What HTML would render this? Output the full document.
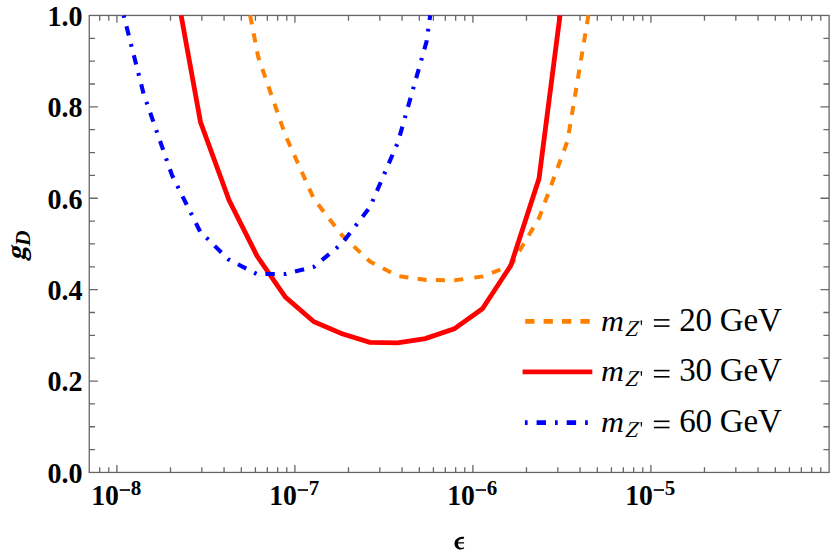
<!DOCTYPE html>
<html><head><meta charset="utf-8"><style>
html,body{margin:0;padding:0;background:#fff;}
body{width:830px;height:556px;overflow:hidden;font-family:"Liberation Serif",serif;}
svg{display:block}
</style></head><body>
<svg width="830" height="556" viewBox="0 0 830 556">
<rect width="830" height="556" fill="#fff"/>
<rect x="89.25" y="15.45" width="739.85" height="457.00" fill="none" stroke="#666666" stroke-width="1.3"/>
<path d="M99.65 472.45 v-5.2 M99.65 15.45 v5.2 M108.76 472.45 v-5.2 M108.76 15.45 v5.2 M116.90 472.45 v-7.4 M116.90 15.45 v7.4 M170.48 472.45 v-5.2 M170.48 15.45 v5.2 M201.83 472.45 v-5.2 M201.83 15.45 v5.2 M224.07 472.45 v-5.2 M224.07 15.45 v5.2 M241.32 472.45 v-5.2 M241.32 15.45 v5.2 M255.41 472.45 v-5.2 M255.41 15.45 v5.2 M267.33 472.45 v-5.2 M267.33 15.45 v5.2 M277.65 472.45 v-5.2 M277.65 15.45 v5.2 M286.76 472.45 v-5.2 M286.76 15.45 v5.2 M294.90 472.45 v-7.4 M294.90 15.45 v7.4 M348.48 472.45 v-5.2 M348.48 15.45 v5.2 M379.83 472.45 v-5.2 M379.83 15.45 v5.2 M402.07 472.45 v-5.2 M402.07 15.45 v5.2 M419.32 472.45 v-5.2 M419.32 15.45 v5.2 M433.41 472.45 v-5.2 M433.41 15.45 v5.2 M445.33 472.45 v-5.2 M445.33 15.45 v5.2 M455.65 472.45 v-5.2 M455.65 15.45 v5.2 M464.76 472.45 v-5.2 M464.76 15.45 v5.2 M472.90 472.45 v-7.4 M472.90 15.45 v7.4 M526.48 472.45 v-5.2 M526.48 15.45 v5.2 M557.83 472.45 v-5.2 M557.83 15.45 v5.2 M580.07 472.45 v-5.2 M580.07 15.45 v5.2 M597.32 472.45 v-5.2 M597.32 15.45 v5.2 M611.41 472.45 v-5.2 M611.41 15.45 v5.2 M623.33 472.45 v-5.2 M623.33 15.45 v5.2 M633.65 472.45 v-5.2 M633.65 15.45 v5.2 M642.76 472.45 v-5.2 M642.76 15.45 v5.2 M650.90 472.45 v-7.4 M650.90 15.45 v7.4 M704.48 472.45 v-5.2 M704.48 15.45 v5.2 M735.83 472.45 v-5.2 M735.83 15.45 v5.2 M758.07 472.45 v-5.2 M758.07 15.45 v5.2 M775.32 472.45 v-5.2 M775.32 15.45 v5.2 M789.41 472.45 v-5.2 M789.41 15.45 v5.2 M801.33 472.45 v-5.2 M801.33 15.45 v5.2 M811.65 472.45 v-5.2 M811.65 15.45 v5.2 M820.76 472.45 v-5.2 M820.76 15.45 v5.2 M89.25 449.60 h5.7 M829.1 449.60 h-5.7 M89.25 426.75 h5.7 M829.1 426.75 h-5.7 M89.25 403.90 h5.7 M829.1 403.90 h-5.7 M89.25 381.05 h8.6 M829.1 381.05 h-8.6 M89.25 358.20 h5.7 M829.1 358.20 h-5.7 M89.25 335.35 h5.7 M829.1 335.35 h-5.7 M89.25 312.50 h5.7 M829.1 312.50 h-5.7 M89.25 289.65 h8.6 M829.1 289.65 h-8.6 M89.25 266.80 h5.7 M829.1 266.80 h-5.7 M89.25 243.95 h5.7 M829.1 243.95 h-5.7 M89.25 221.10 h5.7 M829.1 221.10 h-5.7 M89.25 198.25 h8.6 M829.1 198.25 h-8.6 M89.25 175.40 h5.7 M829.1 175.40 h-5.7 M89.25 152.55 h5.7 M829.1 152.55 h-5.7 M89.25 129.70 h5.7 M829.1 129.70 h-5.7 M89.25 106.85 h8.6 M829.1 106.85 h-8.6 M89.25 84.00 h5.7 M829.1 84.00 h-5.7 M89.25 61.15 h5.7 M829.1 61.15 h-5.7 M89.25 38.30 h5.7 M829.1 38.30 h-5.7" stroke="#666666" stroke-width="1.3" fill="none"/>
<polyline points="250.1,15.4 258.2,57.0 285.4,135.3 313.9,199.0 342.0,235.3 370.0,261.6 398.0,276.1 426.5,280.0 454.7,280.3 469.4,278.3" fill="none" stroke="#FF8000" stroke-width="4.0" stroke-dasharray="9.1 9.27" stroke-dashoffset="0"/>
<polyline points="469.4,278.3 483.0,276.4 511.0,265.3 539.3,217.5 567.5,141.0 588.4,15.4" fill="none" stroke="#FF8000" stroke-width="4.0" stroke-dasharray="9.1 9.3" stroke-dashoffset="13.45"/>
<polyline points="181.1,15.4 200.5,122.0 229.1,200.4 257.2,256.3 285.4,297.1 313.9,321.7 342.0,333.7 369.8,342.4 397.5,342.9 425.3,338.6 454.2,328.9 482.4,308.7 510.8,265.5 539.0,178.6 560.0,15.4" fill="none" stroke="#FF0000" stroke-width="4.8"/>
<polyline points="123.7,15.4 143.6,93.8 171.9,175.0 200.1,231.5 228.6,259.5 257.0,274.1 285.4,274.0 313.9,266.8 342.0,243.5 370.0,207.1 398.0,142.1 426.5,41.8 430.2,15.4" fill="none" stroke="#0000FF" stroke-width="4.1" stroke-dasharray="2.7 8.9 9.4 8.9" stroke-dashoffset="0.3"/>
<line x1="525.2" y1="321.4" x2="590.1" y2="321.4" stroke="#FF8000" stroke-width="4.8" stroke-dasharray="9.3 9.1"/>
<line x1="522.6" y1="371.9" x2="592.3" y2="371.9" stroke="#FF0000" stroke-width="4.8"/>
<line x1="524.9" y1="422.7" x2="590" y2="422.7" stroke="#0000FF" stroke-width="4.8" stroke-dasharray="2.7 9 9.4 9"/>
<text transform="translate(601.0,330.60) scale(0.995,0.95)" font-family="Liberation Serif, serif" font-size="32" font-style="italic">m</text>
<text transform="translate(625.1,335.50) skewX(-7)" font-family="Liberation Serif, serif" font-size="22.7" font-style="italic">Z</text>
<path d="M640.55 320.60 h1.6 l-0.4 4.7 h-0.8 z" fill="#000"/>
<rect x="653.9" y="319.10" width="15.6" height="1.6" fill="#000"/>
<rect x="653.9" y="325.30" width="15.6" height="1.6" fill="#000"/>
<text x="679.2" y="330.5" font-family="Liberation Serif, serif" font-size="33" letter-spacing="-0.2">20 GeV</text>
<text transform="translate(601.0,381.30) scale(0.995,0.95)" font-family="Liberation Serif, serif" font-size="32" font-style="italic">m</text>
<text transform="translate(625.1,386.20) skewX(-7)" font-family="Liberation Serif, serif" font-size="22.7" font-style="italic">Z</text>
<path d="M640.55 371.30 h1.6 l-0.4 4.7 h-0.8 z" fill="#000"/>
<rect x="653.9" y="369.80" width="15.6" height="1.6" fill="#000"/>
<rect x="653.9" y="376.00" width="15.6" height="1.6" fill="#000"/>
<text x="679.2" y="381.2" font-family="Liberation Serif, serif" font-size="33" letter-spacing="-0.2">30 GeV</text>
<text transform="translate(601.0,432.00) scale(0.995,0.95)" font-family="Liberation Serif, serif" font-size="32" font-style="italic">m</text>
<text transform="translate(625.1,436.90) skewX(-7)" font-family="Liberation Serif, serif" font-size="22.7" font-style="italic">Z</text>
<path d="M640.55 422.00 h1.6 l-0.4 4.7 h-0.8 z" fill="#000"/>
<rect x="653.9" y="420.50" width="15.6" height="1.6" fill="#000"/>
<rect x="653.9" y="426.70" width="15.6" height="1.6" fill="#000"/>
<text x="679.2" y="431.9" font-family="Liberation Serif, serif" font-size="33" letter-spacing="-0.2">60 GeV</text>
<text transform="translate(82.6,482.75) scale(0.968,1)" font-family="Liberation Serif, serif" font-size="29" font-weight="bold" text-anchor="end">0.0</text>
<text transform="translate(82.6,391.35) scale(0.968,1)" font-family="Liberation Serif, serif" font-size="29" font-weight="bold" text-anchor="end">0.2</text>
<text transform="translate(82.6,299.95) scale(0.968,1)" font-family="Liberation Serif, serif" font-size="29" font-weight="bold" text-anchor="end">0.4</text>
<text transform="translate(82.6,208.55) scale(0.968,1)" font-family="Liberation Serif, serif" font-size="29" font-weight="bold" text-anchor="end">0.6</text>
<text transform="translate(82.6,117.15) scale(0.968,1)" font-family="Liberation Serif, serif" font-size="29" font-weight="bold" text-anchor="end">0.8</text>
<text transform="translate(82.6,25.75) scale(0.968,1)" font-family="Liberation Serif, serif" font-size="29" font-weight="bold" text-anchor="end">1.0</text>
<text transform="translate(91.15,505) scale(0.955,1)" font-family="Liberation Serif, serif" font-size="29" font-weight="bold">10</text>
<rect x="119.70" y="489.2" width="10.3" height="1.65" fill="#000"/>
<text x="130.80" y="494.9" font-family="Liberation Serif, serif" font-size="21" font-weight="bold">8</text>
<text transform="translate(269.15,505) scale(0.955,1)" font-family="Liberation Serif, serif" font-size="29" font-weight="bold">10</text>
<rect x="297.70" y="489.2" width="10.3" height="1.65" fill="#000"/>
<text x="308.80" y="494.9" font-family="Liberation Serif, serif" font-size="21" font-weight="bold">7</text>
<text transform="translate(447.15,505) scale(0.955,1)" font-family="Liberation Serif, serif" font-size="29" font-weight="bold">10</text>
<rect x="475.70" y="489.2" width="10.3" height="1.65" fill="#000"/>
<text x="486.80" y="494.9" font-family="Liberation Serif, serif" font-size="21" font-weight="bold">6</text>
<text transform="translate(625.15,505) scale(0.955,1)" font-family="Liberation Serif, serif" font-size="29" font-weight="bold">10</text>
<rect x="653.70" y="489.2" width="10.3" height="1.65" fill="#000"/>
<text x="664.80" y="494.9" font-family="Liberation Serif, serif" font-size="21" font-weight="bold">5</text>
<g transform="translate(25,260.7) rotate(-90)"><text transform="skewX(-14)" x="0" y="0" font-family="Liberation Serif, serif" font-size="27.5" font-weight="bold">g</text><text x="14.6" y="5" font-family="Liberation Serif, serif" font-size="21.5" font-weight="bold" font-style="italic">D</text></g>
<path transform="translate(448,530) scale(0.04316)" d="M372 160 C300 150 150 190 150 310 C150 410 225 449 300 449 C330 449 355 441 372 431 L372 394 C352 408 322 415 304 415 C262 415 236 382 232 315 L370 315 L370 284 L233 284 C240 232 278 196 372 202 Z" fill="#000"/>
</svg>
</body></html>
